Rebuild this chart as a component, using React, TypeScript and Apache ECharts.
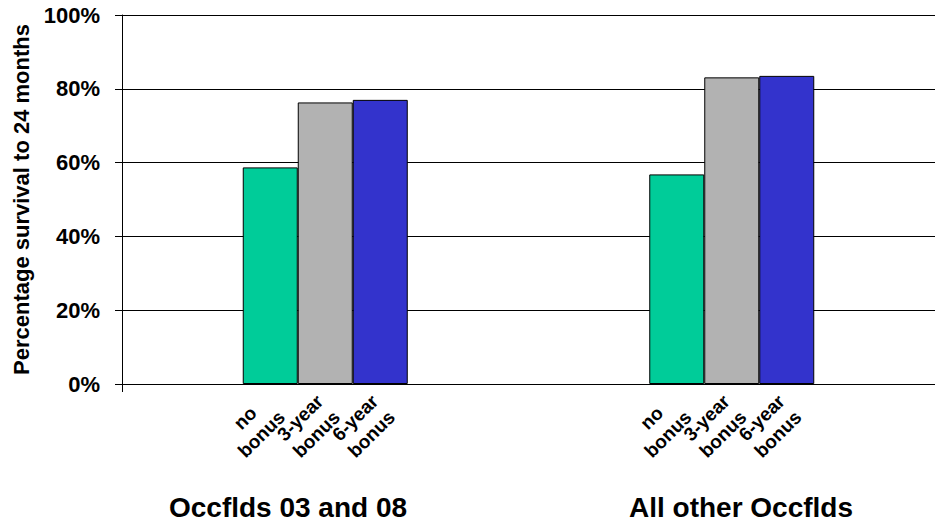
import React, { useEffect, useRef } from "react";
import * as echarts from "echarts";

// Survival to 24 months by bonus type, for two occupational-field groups
const groups = ["Occflds 03 and 08", "All other Occflds"];
const seriesNames = ["no bonus", "3-year bonus", "6-year bonus"];
const noBonus = [58.7, 56.8];
const threeYearBonus = [76.3, 83.1];
const sixYearBonus = [77.0, 83.5];
const yTicks = [0, 20, 40, 60, 80, 100];

const colors = ["#00CC99", "#B2B2B2", "#3333CC"];
const FONT = '"Liberation Sans", Arial, Helvetica, sans-serif';
const BAR_WIDTH = 55;
const SLANT = Math.PI / 4;
const LINE_GAP = 23;

export default function App() {
  const ref = useRef<HTMLDivElement>(null);

  useEffect(() => {
    if (!ref.current) return;
    const chart = echarts.init(ref.current, null, { renderer: "svg" });
    const values = [noBonus, threeYearBonus, sixYearBonus];

    // One caption per bar: [group index, baseline value, bar index]
    const captionData: number[][] = [];
    groups.forEach((_, g) => seriesNames.forEach((__, k) => captionData.push([g, 0, k])));

    const captionStyle = {
      fontFamily: FONT,
      fontSize: 19,
      fontWeight: "bold",
      fill: "#000",
      align: "center",
      verticalAlign: "middle",
    };

    chart.setOption({
      animation: false,
      backgroundColor: "#ffffff",
      grid: { left: 122, right: -5, top: 15, bottom: 141, containLabel: false },
      xAxis: {
        type: "category",
        data: groups,
        boundaryGap: true,
        axisLine: { show: true, lineStyle: { color: "#000", width: 1 } },
        axisTick: {
          show: true,
          length: 8,
          interval: (index: number) => index === 0,
          lineStyle: { color: "#000", width: 1 },
        },
        axisLabel: { show: false },
        splitLine: { show: false },
      },
      yAxis: {
        type: "value",
        min: yTicks[0],
        max: yTicks[yTicks.length - 1],
        interval: 20,
        name: "Percentage survival to 24 months",
        nameLocation: "middle",
        nameRotate: 90,
        nameGap: 88,
        nameTextStyle: { fontFamily: FONT, fontSize: 22, fontWeight: "bold", color: "#000" },
        axisLine: { show: true, lineStyle: { color: "#000", width: 1 } },
        axisTick: { show: true, length: 7, lineStyle: { color: "#000", width: 1 } },
        axisLabel: {
          margin: 22,
          formatter: (v: number) => `${v}%`,
          fontFamily: FONT,
          fontSize: 22,
          fontWeight: "bold",
          color: "#000",
        },
        splitLine: { show: true, lineStyle: { color: "#000", width: 1 } },
      },
      series: [
        ...seriesNames.map((name, i) => ({
          name,
          type: "bar",
          data: values[i],
          barWidth: BAR_WIDTH,
          barGap: "0%",
          itemStyle: { color: colors[i], borderColor: "#000", borderWidth: 1 },
        })),
        {
          // Slanted two-line captions under each bar, one text per line
          type: "custom",
          silent: true,
          clip: false,
          data: captionData,
          encode: { x: 0, y: 1 },
          renderItem: (_params: any, api: any) => {
            const g = api.value(0);
            const k = api.value(2);
            const foot = api.coord([g, 0]);
            const cx = foot[0] + (k - (seriesNames.length - 1) / 2) * BAR_WIDTH - 17;
            const cy = foot[1] + 42;
            const step = (LINE_GAP / 2) * Math.SQRT1_2;
            const words = seriesNames[k].split(" ");
            return {
              type: "group",
              children: [
                {
                  type: "text",
                  x: cx - step,
                  y: cy - step,
                  rotation: SLANT,
                  style: { ...captionStyle, text: words[0] },
                },
                {
                  type: "text",
                  x: cx + step,
                  y: cy + step,
                  rotation: SLANT,
                  style: { ...captionStyle, text: words[1] },
                },
              ],
            };
          },
        },
      ],
      graphic: [
        {
          type: "text",
          x: 288,
          y: 507,
          style: {
            text: groups[0],
            fontFamily: FONT,
            fontSize: 28,
            fontWeight: "bold",
            fill: "#000",
            textAlign: "center",
            textVerticalAlign: "middle",
          },
        },
        {
          type: "text",
          x: 741,
          y: 507,
          style: {
            text: groups[1],
            fontFamily: FONT,
            fontSize: 28,
            fontWeight: "bold",
            fill: "#000",
            textAlign: "center",
            textVerticalAlign: "middle",
          },
        },
      ],
    });

    return () => chart.dispose();
  }, []);

  return (
    <div
      ref={ref}
      style={{ position: "absolute", left: 0, top: 0, width: 935, height: 525 }}
    />
  );
}
